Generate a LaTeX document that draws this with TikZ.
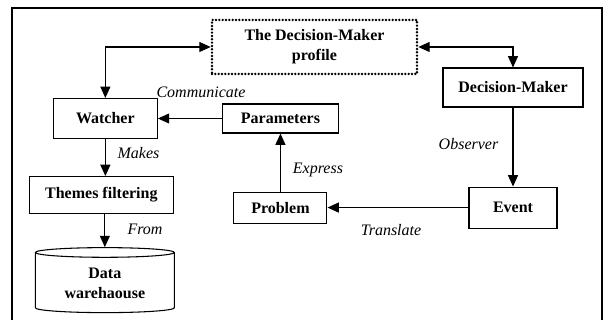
\documentclass[tikz,border=0pt]{standalone}
\usepackage{fontspec}
\setmainfont{Liberation Serif}
\usepackage{tikz}
\usetikzlibrary{shapes.geometric, arrows.meta, positioning, calc}

\begin{document}
\begin{tikzpicture}[x=0.75pt, y=-0.75pt,
    box/.style={draw, line width=0.8pt, inner sep=0pt, font=\fontsize{12}{15}\selectfont\bfseries, align=center},
    lbl/.style={inner sep=0pt, font=\fontsize{12}{15}\selectfont\itshape},
    link/.style={line width=0.8pt, >={Triangle[length=8.5pt, width=7.5pt]}}]
    \useasboundingbox (0,0) rectangle (608,320);
    \draw[line width=1.1pt] (12,320) |- (602,8) -- (602,320);

    \node[box, dash pattern=on 0pt off 2.5pt, line cap=round, line width=2pt, minimum width=153.75pt, minimum height=40.5pt] (profile) at (314.5,47) {The Decision-Maker\\profile};
    \node[box, minimum width=105pt, minimum height=29.25pt] (dm) at (513,87.5) {Decision-Maker};
    \node[box, minimum width=66pt, minimum height=30.75pt, below=59.25pt of dm] (event) {Event};
    \node[box, minimum width=69.75pt, minimum height=23.25pt, left=105.75pt of event] (problem) {Problem};
    \node[box, minimum width=87pt, minimum height=21.75pt, above=43.5pt of problem] (params) {Parameters};
    \node[box, minimum width=78pt, minimum height=30pt, left=48pt of params] (watcher) {Watcher};
    \node[box, minimum width=108pt, minimum height=27.75pt, below=27.75pt of watcher, xshift=-3pt] (themes) {Themes filtering};
    \node[box, cylinder, shape border rotate=90, aspect=0.12, minimum width=104.25pt, minimum height=48.75pt, below=24.75pt of themes, xshift=2.6pt] (dw) {\\[-6pt]Data\\warehaouse};

    \node[lbl] (communicate) at (201,92) {Communicate};
    \node[lbl] (makes) at (138.5,153) {Makes};
    \node[lbl] (from) at (145,229) {From};
    \node[lbl] (express) at (318,170) {Express};
    \node[lbl] (observer) at (468.5,144) {Observer};
    \node[lbl] (translate) at (391,230) {Translate};

    \draw[link, <->] (watcher.north) |- (profile.west);
    \draw[link, <->] (profile.east) -| (dm.north);
    \draw[link, ->] (params.west) -- (watcher.east);
    \draw[link, ->] (dm.south) -- (event.north);
    \draw[link, ->] (event.west) -- (problem.east);
    \draw[link, ->] (problem.north) -- (params.south);
    \draw[link, ->] (watcher.south) -- (watcher.south |- themes.north);
    \draw[link, ->] (themes.south -| dw.north) -- (dw.north);
\end{tikzpicture}
\end{document}
